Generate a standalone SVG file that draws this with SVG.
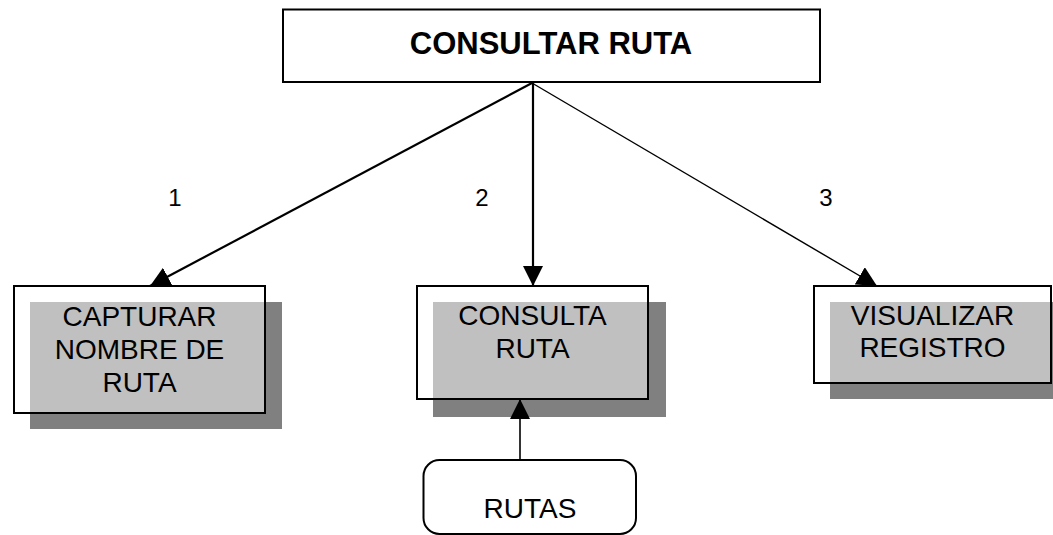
<svg xmlns="http://www.w3.org/2000/svg" width="1053" height="535" viewBox="0 0 1053 535">
<style>
.box{fill:none;stroke:#000;stroke-width:2}
.bg{fill:#fff}
.sh{fill:#808080}
.lt{fill:#c0c0c0}
.t{font-family:"Liberation Sans",Arial,sans-serif;font-size:28px;fill:#000;text-anchor:middle}
.tb{font-family:"Liberation Sans",Arial,sans-serif;font-size:31px;font-weight:bold;fill:#000;text-anchor:middle}
.n{font-family:"Liberation Sans",Arial,sans-serif;font-size:24px;fill:#000;text-anchor:middle}
.c{stroke:#000;fill:none}
</style>
<defs>
<marker id="ah" viewBox="0 0 10 10" refX="10" refY="5" markerWidth="20" markerHeight="20" markerUnits="userSpaceOnUse" orient="auto">
<path d="M0,0 L10,5 L0,10 z" fill="#000"/>
</marker>
</defs>
<rect x="0" y="0" width="1053" height="535" fill="#fff"/>
<g id="top">
<rect class="box" x="283" y="9.5" width="537" height="72.5" fill="#fff"/>
<text class="tb" x="551" y="54">CONSULTAR RUTA</text>
</g>
<g id="capturar">
<rect class="bg" x="14" y="286" width="251" height="127"/>
<rect class="sh" x="30" y="302" width="252" height="127"/>
<rect class="lt" x="30" y="302" width="235" height="111"/>
<rect class="box" x="14" y="286" width="251" height="127"/>
<text class="t" x="139.5" y="326">CAPTURAR</text>
<text class="t" x="139.5" y="359">NOMBRE DE</text>
<text class="t" x="139.5" y="392">RUTA</text>
</g>
<g id="consulta">
<rect class="bg" x="417" y="286" width="231" height="113"/>
<rect class="sh" x="433" y="302" width="233" height="115"/>
<rect class="lt" x="433" y="302" width="215" height="97"/>
<rect class="box" x="417" y="286" width="231" height="113"/>
<text class="t" x="532.5" y="325">CONSULTA</text>
<text class="t" x="532.5" y="358">RUTA</text>
</g>
<g id="visualizar">
<rect class="bg" x="814" y="286" width="237" height="97"/>
<rect class="sh" x="830" y="302" width="240" height="97"/>
<rect class="lt" x="830" y="302" width="221" height="81"/>
<rect class="box" x="814" y="286" width="237" height="97"/>
<text class="t" x="932.5" y="325">VISUALIZAR</text>
<text class="t" x="932.5" y="357">REGISTRO</text>
</g>
<g id="rutas">
<rect class="box" x="423.5" y="460" width="212.5" height="74" rx="16" fill="#fff"/>
<text class="t" x="530" y="518">RUTAS</text>
</g>
<g id="connectors">
<line class="c" x1="532" y1="83" x2="150" y2="286" stroke-width="2.2" marker-end="url(#ah)"/>
<line class="c" x1="533" y1="83" x2="533" y2="286" stroke-width="2.2" marker-end="url(#ah)"/>
<line class="c" x1="532" y1="83" x2="877" y2="286" stroke-width="1.4" marker-end="url(#ah)"/>
<line class="c" x1="520" y1="460" x2="520" y2="399" stroke-width="1.6" marker-end="url(#ah)"/>
</g>
<g id="labels">
<text class="n" x="175" y="206">1</text>
<text class="n" x="482" y="206">2</text>
<text class="n" x="826" y="206">3</text>
</g>
</svg>
